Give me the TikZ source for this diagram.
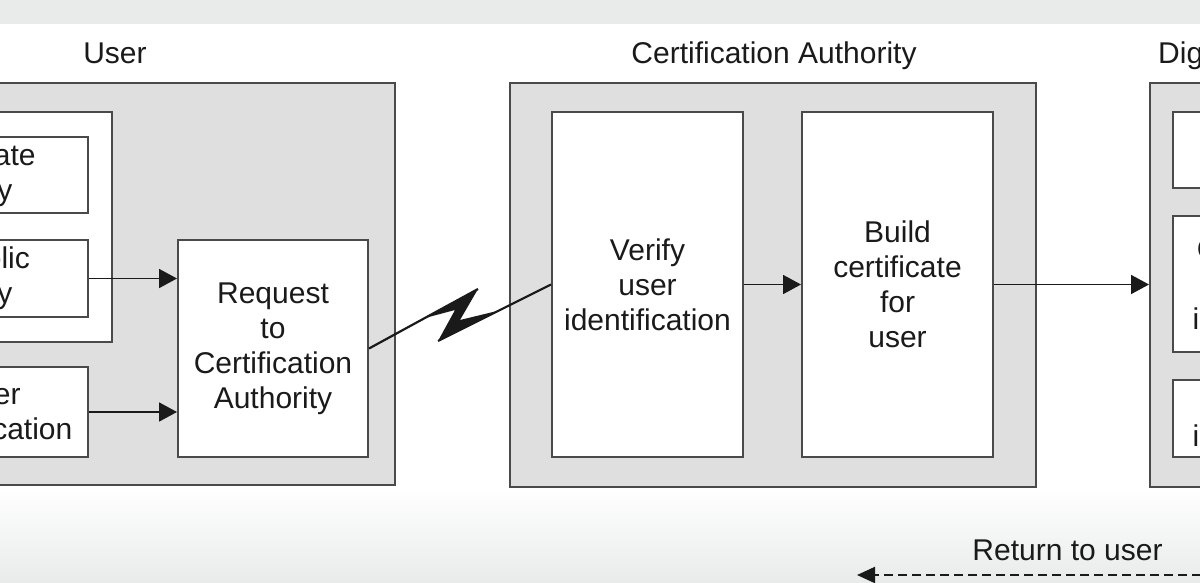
\documentclass[tikz,border=0pt]{standalone}
\usepackage{fontspec}
\setmainfont{Liberation Sans}
\usetikzlibrary{arrows.meta}
\definecolor{bgband}{HTML}{E9EBEA}
\definecolor{grp}{HTML}{E0DFE0}
\definecolor{edge}{HTML}{4A4A4A}
\definecolor{ink}{HTML}{1A1A1A}
\begin{document}
\begin{tikzpicture}[x=1pt,y=-1pt,
  font=\fontsize{30}{35}\selectfont,
  grpbox/.style={draw=edge, line width=2pt, fill=grp, inner sep=0pt},
  wbox/.style={draw=edge, line width=2pt, fill=white, inner sep=0pt, align=center, text=ink},
  arr/.style={draw=ink, line width=1.8pt, -{Triangle[length=18pt,width=19pt]}},
  lbl/.style={anchor=base, inner sep=0pt, text=ink}]
\useasboundingbox (0,0) rectangle (1200,582);
\clip (0,0) rectangle (1200,582);
% background
\fill[white] (0,0) rectangle (1200,582);
\fill[bgband] (0,0) rectangle (1200,24);
\shade[top color=white, bottom color=bgband] (0,488) rectangle (1200,582);

% group titles
\node[lbl] (usertitle) at (115,63) {User};
\node[lbl] (catitle) at (774,63) {Certification Authority};
\node[lbl, anchor=base west] (digtitle) at (1158,63) {Digital certificate};

% User group
\node[grpbox, minimum width=560pt, minimum height=402pt] (userbox) at (115,284) {};
\node[wbox, minimum width=246pt, minimum height=230pt] (keysbox) at (-11,227) {};
\node[wbox, minimum width=198pt, minimum height=76pt] (privkey) at (-11,175) {Private\\key};
\node[wbox, minimum width=198pt, minimum height=77pt] (pubkey) at (-11,278.5) {Public\\key};
\node[wbox, minimum width=198pt, minimum height=90pt] (userid) at (-11,412) {User\\identification};
\node[wbox, minimum width=190pt, minimum height=217pt] (req) at (273,348.5) {Request\\to\\Certification\\Authority};

% CA group
\node[grpbox, minimum width=526pt, minimum height=404pt] (cabox) at (773,285) {};
\node[wbox, minimum width=191pt, minimum height=345pt] (verify) at (647.5,284.5) {Verify\\user\\identification};
\node[wbox, minimum width=191pt, minimum height=345pt] (build) at (897.5,284.5) {Build\\certificate\\for\\user};

% Digital certificate group
\node[grpbox, minimum width=252pt, minimum height=404pt] (digbox) at (1276,285) {};
\node[wbox, minimum width=206pt, minimum height=76pt] (dig1) at (1276,150) {};
\node[wbox, minimum width=206pt, minimum height=136pt] (dig2) at (1276,284) {Certification\\Authority\\identification};
\node[wbox, minimum width=206pt, minimum height=77pt] (dig3) at (1276,418.5) {User's\\identification};

% arrows
\draw[arr] (pubkey.east) -- (pubkey.east -| req.west);
\draw[arr] (userid.east) -- (userid.east -| req.west);
\draw[arr] (verify.east) -- (build.west);
\draw[arr] (build.east) -- (build.east -| digbox.west);

% lightning link
\coordinate (t1) at (478,289);
\coordinate (t2) at (438,341);
\draw[ink, line width=2.2pt] (req.east) -- (t1);
\draw[ink, line width=2.2pt] (t2) -- (verify.west);
\fill[ink] (425,318) -- (t1) -- (460,320) -- (500,310.3) -- (t2) -- (455,310) -- cycle;

% return to user
\node[lbl] (ret) at (1067.5,560) {Return to user};
\coordinate (retstart) at (1215,575);
\coordinate (retend) at (857,575);
\draw[draw=ink, line width=2pt, dash pattern=on 9pt off 5pt, -{Triangle[length=18pt,width=16pt]}] (retstart) -- (retend);
\end{tikzpicture}
\end{document}
